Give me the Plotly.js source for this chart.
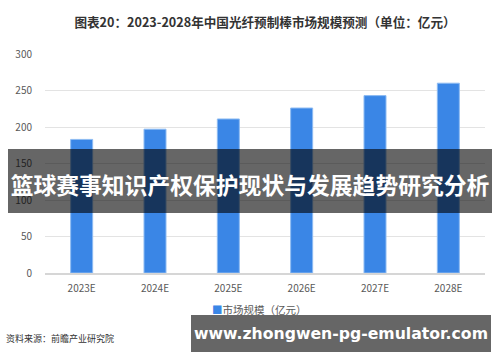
<!DOCTYPE html>
<html>
<head>
<meta charset="utf-8">
<script src="https://cdn.plot.ly/plotly-3.0.1.min.js"></script>
<style>
  html, body { margin:0; padding:0; background:#fff; }
  #wrap { position:relative; width:500px; height:362px; overflow:hidden; }
  #chart { width:500px; height:362px; }
  .band { position:absolute; background:rgba(0,0,0,0.6); color:#fff; font-weight:bold;
          display:flex; align-items:center; justify-content:center; white-space:nowrap; }
</style>
</head>
<body>
<div id="wrap">
  <div id="chart"></div>
  <div class="band" id="band1" style="left:8px; top:149px; width:484px; height:64px; font-family:'Noto Sans CJK SC', sans-serif; font-size:22.8px; padding-top:6px; box-sizing:border-box;">篮球赛事知识产权保护现状与发展趋势研究分析</div>
  <div class="band" id="band2" style="left:191px; top:315px; width:300px; height:37px; font-family:'DejaVu Sans', sans-serif; font-size:15.7px;">www.zhongwen-pg-emulator.com</div>
</div>
<script>
const categories = ["2023E", "2024E", "2025E", "2026E", "2027E", "2028E"];
const marketSize = [183, 197, 211, 226, 243, 260];
const seriesName = "市场规模（亿元）";
const yTicks = [0, 50, 100, 150, 200, 250, 300];
const titleText = "图表20：2023-2028年中国光纤预制棒市场规模预测（单位：亿元）";
const sourceText = "资料来源：前瞻产业研究院";

const barColor = "#3a86e6";
const cjk = "'Noto Sans CJK SC', 'Noto Sans', sans-serif";

// plot area in pixels: x 45..485, y 54..273
const pxToPaperX = px => (px - 45) / 440;
const pxToPaperY = py => (273 - py) / 219;

const trace = {
  type: "bar",
  x: categories,
  y: marketSize,
  name: seriesName,
  marker: { color: barColor, line: { color: "#8dbbf2", width: 1 } },
  showlegend: false,
  hoverinfo: "x+y"
};

const layout = {
  width: 500, height: 362,
  margin: { l: 45, r: 15, t: 54, b: 89 },
  paper_bgcolor: "#ffffff",
  plot_bgcolor: "#ffffff",
  bargap: 0.7,
  font: { family: cjk, color: "#595959", size: 10 },
  title: {
    text: "<b>" + titleText + "</b>",
    x: 0.5, xanchor: "center", xref: "paper",
    y: 1 - 22.5 / 362, yanchor: "middle", yref: "container",
    font: { family: cjk, size: 12.6, color: "#333333" }
  },
  xaxis: {
    type: "category",
    showgrid: false,
    showline: true, linecolor: "#d6d6d6", linewidth: 1.5,
    ticks: "", ticklen: 0, ticklabelstandoff: 5,
    tickfont: { family: cjk, size: 10, color: "#595959" },
    zeroline: false
  },
  yaxis: {
    range: [0, 300],
    tickvals: yTicks,
    ticktext: yTicks.map(String),
    showgrid: true, gridcolor: "#e3e3e3", gridwidth: 1,
    zeroline: false,
    showline: false,
    ticks: "", ticklabelstandoff: 12,
    tickfont: { family: cjk, size: 10, color: "#595959" }
  },
  annotations: [
    {
      text: "<span style='color:" + barColor + "'>■</span>" + seriesName,
      xref: "paper", yref: "paper",
      x: pxToPaperX(210), xanchor: "left",
      y: pxToPaperY(309), yanchor: "middle",
      showarrow: false,
      font: { family: cjk, size: 10.5, color: "#595959" }
    },
    {
      text: sourceText,
      xref: "paper", yref: "paper",
      x: pxToPaperX(4), xanchor: "left",
      y: pxToPaperY(338), yanchor: "middle",
      showarrow: false,
      font: { family: cjk, size: 9, color: "#333333" }
    }
  ]
};

Plotly.newPlot("chart", [trace], layout, { displayModeBar: false, staticPlot: true });
</script>
</body>
</html>
